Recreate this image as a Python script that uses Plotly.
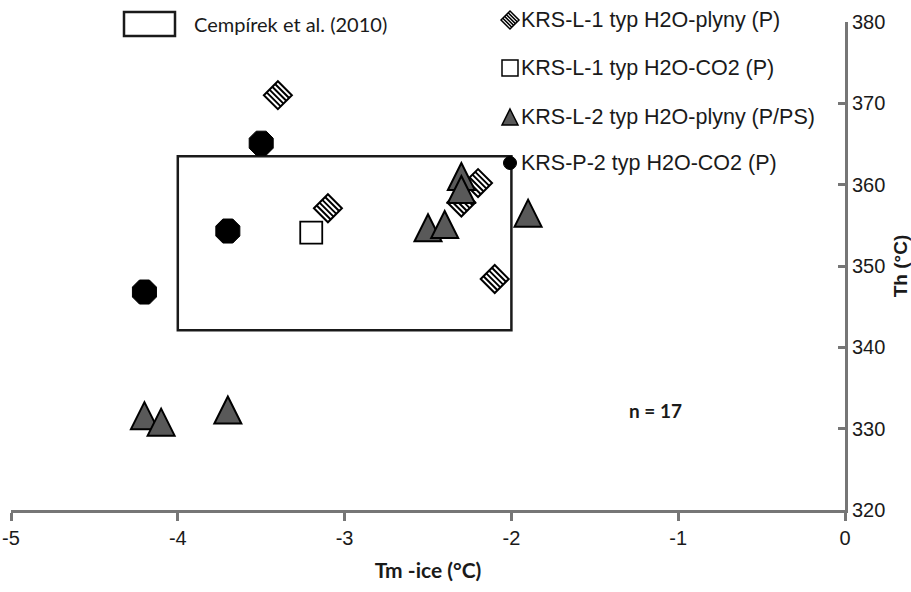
import plotly.graph_objects as go

# ---- data ----
diam_x = [-3.4, -3.1, -2.2, -2.3, -2.1]
diam_y = [371.0, 357.1, 360.2, 357.8, 348.4]
sq_x = [-3.2]
sq_y = [354.1]
tri_x = [-2.3, -2.3, -2.5, -2.4, -1.9, -4.2, -4.1, -3.7]
tri_y = [361.0, 359.4, 354.7, 355.1, 356.5, 331.6, 330.8, 332.3]
circ_x = [-3.5, -3.7, -4.2]
circ_y = [365.1, 354.3, 346.8]
box_x = [-4.0, -2.0]
box_y = [342.1, 363.5]

legend_names = ["KRS-L-1 typ H2O-plyny (P)", "KRS-L-1 typ H2O-CO2 (P)",
                "KRS-L-2 typ H2O-plyny (P/PS)", "KRS-P-2 typ H2O-CO2 (P)"]
box_label = "Cempírek et al. (2010)"
n_label = "n = 17"
x_ticks = [-5, -4, -3, -2, -1, 0]
y_ticks = [320, 330, 340, 350, 360, 370, 380]

TRI_FILL = "#595959"
AXIS_COL = "#767676"
TICK_FONT = dict(family="Liberation Sans Narrow, Arial Narrow, Liberation Sans, Arial", size=20, color="#1a1a1a")

fig = go.Figure()
shapes = []

# reference box
shapes.append(dict(type="rect", xref="x", yref="y", x0=box_x[0], x1=box_x[1],
                   y0=box_y[0], y1=box_y[1], line=dict(color="#1a1a1a", width=2.5),
                   fillcolor="rgba(0,0,0,0)", layer="below"))


def hatched_diamond(h):
    outline = f"M{-h},0 L0,{h} L{h},0 L0,{-h} Z"
    stripes = ""
    for t in (0.2, 0.4, 0.6, 0.8):
        stripes += f" M{-h + t*h:.2f},{t*h:.2f} L{t*h:.2f},{t*h - h:.2f}"
    return outline, stripes


def triangle(h, w):
    return f"M0,{h} L{w},{-h} L{-w},{-h} Z"


def pix_shape(path, xref, yref, xa, ya, fill, lw, lc="black"):
    return dict(type="path", xref=xref, yref=yref, xsizemode="pixel", ysizemode="pixel",
                xanchor=xa, yanchor=ya, path=path, fillcolor=fill,
                line=dict(color=lc, width=lw), layer="below")


# hatched diamonds (anchored on the data axes)
o, s = hatched_diamond(14)
for xv, yv in zip(diam_x, diam_y):
    shapes.append(pix_shape(o, "x", "y", xv, yv, "white", 2))
    shapes.append(pix_shape(s, "x", "y", xv, yv, "rgba(0,0,0,0)", 2))

# triangles
for xv, yv in zip(tri_x, tri_y):
    shapes.append(pix_shape(triangle(13.5, 13.5), "x", "y", xv, yv, TRI_FILL, 2))

fig.add_trace(go.Scatter(x=sq_x, y=sq_y, mode="markers", name=legend_names[1],
                         marker=dict(symbol="square", size=22, color="white",
                                     line=dict(color="black", width=1.8)),
                         showlegend=False))
fig.add_trace(go.Scatter(x=circ_x, y=circ_y, mode="markers", name=legend_names[3],
                         marker=dict(symbol="octagon", size=26, color="black",
                                     line=dict(color="black", width=1)),
                         showlegend=False))

# ---- manual legend ----
X0, X1, Y0, Y1 = 11, 845, 22, 510
def px(v):
    return (v - X0) / (X1 - X0)
def py(v):
    return (Y1 - v) / (Y1 - Y0)

rows = [20, 68, 117, 163]
mx = px(510)
o2, s2 = hatched_diamond(9)
shapes.append(pix_shape(o2, "paper", "paper", mx, py(rows[0]), "white", 1.5))
shapes.append(pix_shape(s2, "paper", "paper", mx, py(rows[0]), "rgba(0,0,0,0)", 1.5))
shapes.append(pix_shape("M-8,-8 L8,-8 L8,8 L-8,8 Z", "paper", "paper", mx, py(rows[1]), "white", 1.5))
shapes.append(pix_shape(triangle(8, 8), "paper", "paper", mx, py(rows[2]), TRI_FILL, 1.5))
shapes.append(dict(type="circle", xref="paper", yref="paper", xsizemode="pixel", ysizemode="pixel",
                   xanchor=mx, yanchor=py(rows[3]), x0=-6.5, x1=6.5, y0=-6.5, y1=6.5,
                   fillcolor="black", line=dict(color="black", width=1)))

# box legend
shapes.append(dict(type="rect", xref="paper", yref="paper", x0=px(124), x1=px(175),
                   y0=py(36), y1=py(12), line=dict(color="#1a1a1a", width=2.5),
                   fillcolor="rgba(0,0,0,0)"))

annotations = []
for name, r in zip(legend_names, rows):
    annotations.append(dict(x=px(519), y=py(r), xref="paper", yref="paper", text=name,
                            showarrow=False, xanchor="left", yanchor="middle",
                            font=dict(family="Liberation Sans, Arial", size=21.5, color="#1a1a1a")))
annotations.append(dict(x=px(192), y=py(24), xref="paper", yref="paper", text=box_label,
                        showarrow=False, xanchor="left", yanchor="middle",
                        font=dict(family="Lato, Carlito, Calibri", size=20, color="#1a1a1a")))
annotations.append(dict(x=px(655), y=py(410), xref="paper", yref="paper", text=f"<b>{n_label}</b>",
                        showarrow=False, xanchor="center", yanchor="middle",
                        font=dict(family="Lato, Carlito, Calibri", size=19, color="#1a1a1a")))

fig.update_layout(
    width=911, height=592,
    margin=dict(l=X0, r=911 - X1, t=Y0, b=592 - Y1),
    paper_bgcolor="white", plot_bgcolor="white",
    shapes=shapes, annotations=annotations,
    showlegend=False,
    xaxis=dict(range=[-5, 0], tickvals=x_ticks, ticktext=[str(v) for v in x_ticks],
               showgrid=False, zeroline=False, showline=True, linecolor=AXIS_COL, linewidth=3,
               ticks="outside", ticklen=8, tickwidth=3, tickcolor=AXIS_COL,
               tickfont=TICK_FONT,
               title=dict(text="<b>Tm -ice (°C)</b>", standoff=16,
                          font=dict(family="Lato, Carlito, Calibri", size=21, color="#1a1a1a")),
               automargin=False, fixedrange=True),
    yaxis=dict(range=[320, 380], tickvals=y_ticks, side="right",
               showgrid=False, zeroline=False, showline=True, linecolor=AXIS_COL, linewidth=3,
               ticks="inside", ticklen=7, tickwidth=3, tickcolor=AXIS_COL,
               tickfont=TICK_FONT,
               title=dict(text="<b>Th (°C)</b>", standoff=12,
                          font=dict(family="Liberation Sans, Arial", size=19, color="#1a1a1a")),
               automargin=False, fixedrange=True),
)

fig.write_html("out.html")
